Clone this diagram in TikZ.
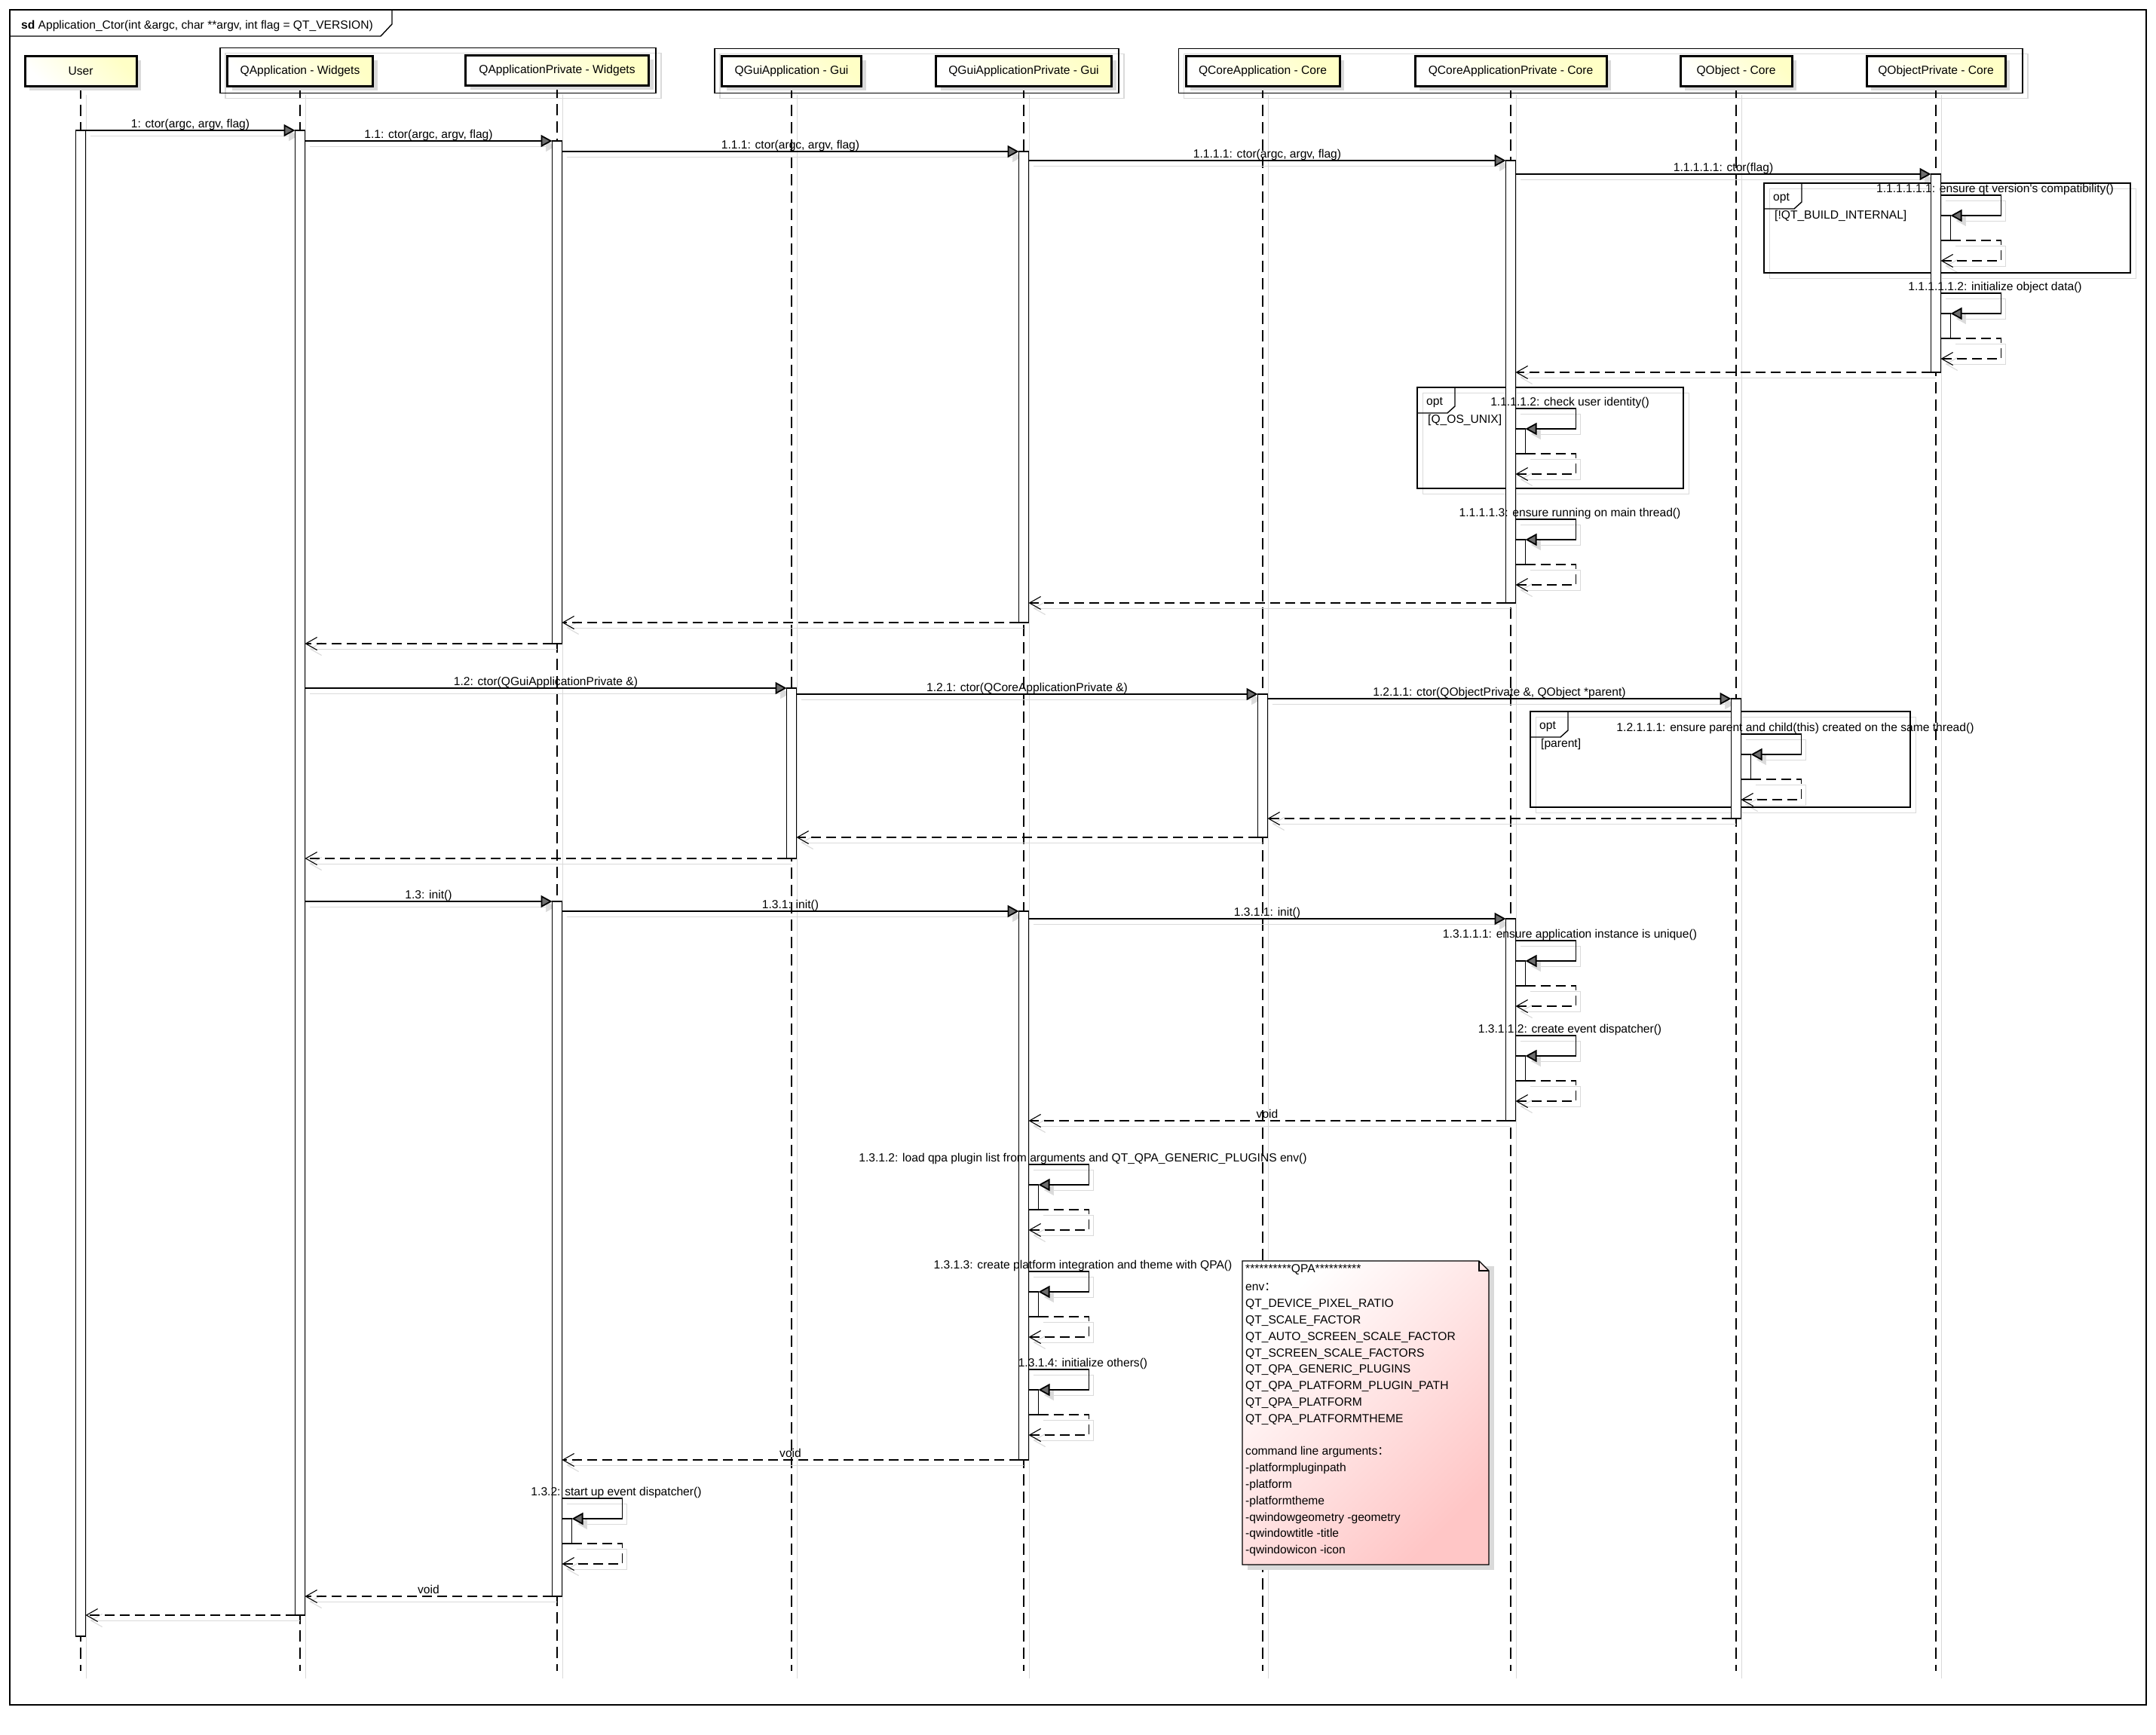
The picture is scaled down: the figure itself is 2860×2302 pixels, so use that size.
\documentclass[tikz,border=0pt]{standalone}
\usepackage{fontspec}
\setmainfont{Liberation Sans}
\newfontfamily\cjk{Noto Sans CJK SC}
\usetikzlibrary{arrows.meta,backgrounds,calc,fit,positioning,shadows}
\definecolor{Ink}{HTML}{000000}
\definecolor{Shade}{HTML}{DADADA}
\definecolor{HeadCream}{HTML}{FFFFC6}
\definecolor{NotePink}{HTML}{FFC6C6}
\definecolor{TipGray}{HTML}{6E6E6E}
\newcommand{\msgfont}{\fontsize{15.6}{18}\selectfont}
\tikzset{
  headbox/.style={
    draw=Ink, line width=3pt, top color=HeadCream, bottom color=white, shading angle=-45,
    minimum height=40pt, inner sep=0pt, font=\msgfont,
    drop shadow={shadow xshift=6pt, shadow yshift=-6pt, fill=Shade, opacity=1}
  },
  groupbox/.style={
    draw=Ink, line width=1.4pt, inner xsep=8pt, inner ysep=8pt,
    preaction={draw=Shade, transform canvas={shift={(7pt,-7pt)}}}
  },
  lifeline/.style={
    draw=Ink, line width=1.5pt, dash pattern=on 15pt off 8pt,
    preaction={draw=Shade, solid, transform canvas={shift={(7pt,-10pt)}}}
  },
  actbox/.style={draw=Ink, line width=1.3pt, fill=white, minimum width=13pt, inner sep=0pt, outer sep=0pt},
  call/.style={
    draw=Ink, line width=1.8pt, -{Triangle[length=15pt,width=16pt,fill=TipGray]},
    preaction={draw=Shade, -{Triangle[length=15pt,width=16pt,fill=Shade]}, transform canvas={shift={(6pt,-7pt)}}}
  },
  reply/.style={
    draw=Ink, line width=1.5pt, dash pattern=on 13pt off 7pt,
    -{Straight Barb[length=15pt,width=17pt,line width=1.1pt]},
    preaction={draw=Shade, solid, transform canvas={shift={(6pt,-7pt)}}}
  },
  msglabel/.style={font=\msgfont, inner sep=0pt, anchor=base, yshift=4pt},
  fragbox/.style={draw=Ink, line width=1.4pt, preaction={draw=Shade, transform canvas={shift={(7pt,-7pt)}}}},
  fragtext/.style={font=\msgfont, inner sep=0pt, anchor=base west},
  notetext/.style={font=\fontsize{15.6}{21.8}\selectfont, align=left, inner sep=0pt, anchor=north west}
}
% activation bar: name, lifeline head, top y, bottom y
\newcommand{\actbar}[4]{\node[actbox, anchor=north, minimum height={#4-#3}] (#1) at (#2 |- 0,#3) {};}
% call: from bar, to bar, label
\newcommand{\callmsg}[3]{%
  \begin{pgfonlayer}{background}
    \draw[call] (#1.east |- #2.north) -- (#2.north west);
  \end{pgfonlayer}
  \node[msglabel] (#2-lbl) at ($(#1.east |- #2.north)!0.5!(#2.north west)$) {#3};
}
% reply: from bar, to bar, label
\newcommand{\replymsg}[3]{%
  \begin{pgfonlayer}{background}
    \draw[reply] (#1.south west) -- (#2.east |- #1.south);
  \end{pgfonlayer}
  \node[msglabel] (#1-ret) at ($(#1.south west)!0.5!(#2.east |- #1.south)$) {#3};
}
% self call: bar, nested bar, top y, label
\newcommand{\selfmsg}[4]{%
  \node[actbox, anchor=north west, minimum height=33pt] (#2) at (#1.east |- 0,#3+27) {};
  \begin{pgfonlayer}{background}
    \draw[call] (#1.east |- 0,#3) -- ++(80,0) |- (#2.north east);
    \draw[reply] (#2.south east) -- ++(67,0) |- (#1.east |- 0,#3+87);
  \end{pgfonlayer}
  \node[msglabel] (#2-lbl) at ($(#1.east |- 0,#3)+(72,0)$) {#4};
}
% opt fragment: name, x1, y1, x2, y2, guard
\newcommand{\optfrag}[6]{%
  \draw[fragbox] (#2,#3) coordinate (#1) rectangle (#4,#5);
  \draw[Ink, line width=1.4pt] (#1) -- ++(50,0) -- ++(0,25) -- ++(-10,9) -- ++(-40,0);
  \node[fragtext] (#1-opt) at ($(#1)+(12,23)$) {opt};
  \node[fragtext] (#1-guard) at ($(#1)+(14,47)$) {#6};
}

\begin{document}
\begin{tikzpicture}[x=1pt, y=-1pt]
  \useasboundingbox (0,0) rectangle (2860,2302);
  % frame
  \node[draw=Ink, line width=1.6pt, minimum width=2834pt, minimum height=2249pt,
    anchor=north west, inner sep=0pt, outer sep=0pt] (frame) at (13,13) {};
  \draw[Ink, line width=1.4pt] (frame.north west) ++(0,35) -- ++(492,0) -- ++(15,-16) -- ++(0,-19);
  \node[anchor=base west, font=\msgfont, inner sep=0pt] (title) at (28,38)
    {\textbf{sd} Application\_Ctor(int \&argc, char **argv, int flag = QT\_VERSION)};

  % lifeline heads
  \node[headbox, minimum width=148pt] (user) at (107,94) {User};
  \node[headbox, minimum width=193pt] (qapp) at (398,94) {QApplication - Widgets};
  \node[headbox, minimum width=243pt] (qappp) at (739,93) {QApplicationPrivate - Widgets};
  \node[headbox, minimum width=185pt] (qgui) at (1050,94) {QGuiApplication - Gui};
  \node[headbox, minimum width=233pt] (qguip) at (1358,94) {QGuiApplicationPrivate - Gui};
  \node[headbox, minimum width=204pt] (qcore) at (1675,94) {QCoreApplication - Core};
  \node[headbox, minimum width=254pt] (qcorep) at (2004,94) {QCoreApplicationPrivate - Core};
  \node[headbox, minimum width=148pt] (qobj) at (2303,94) {QObject - Core};
  \node[headbox, minimum width=184pt] (qobjp) at (2568,94) {QObjectPrivate - Core};
  \coordinate (coreEdge) at (2675,94);
  \node[groupbox, fit=(qapp)(qappp)] (widgets) {};
  \node[groupbox, fit=(qgui)(qguip)] (gui) {};
  \node[groupbox, fit=(qcore)(qobjp)(coreEdge)] (core) {};

  % lifelines
  \coordinate (bottom) at (0,2217);
  \begin{pgfonlayer}{background}
    \foreach \h in {user,qapp,qappp,qgui,qguip,qcore,qcorep,qobj,qobjp}
      \draw[lifeline] (\h.south) -- (\h |- bottom);
  \end{pgfonlayer}

  % fragments
  \optfrag{fragA}{2340}{243}{2826}{362}{[!QT\_BUILD\_INTERNAL]}
  \optfrag{fragB}{1880}{514}{2233}{648}{[Q\_OS\_UNIX]}
  \optfrag{fragC}{2030}{944}{2534}{1071}{[parent]}

  % activation bars
  \actbar{uB}{user}{173}{2171}
  \actbar{aB}{qapp}{173}{2143}
  \actbar{apA}{qappp}{187}{854}
  \actbar{gpA}{qguip}{201}{826}
  \actbar{cpA}{qcorep}{213}{800}
  \actbar{opA}{qobjp}{231}{494}
  \actbar{gA}{qgui}{913}{1139}
  \actbar{cA}{qcore}{921}{1111}
  \actbar{oA}{qobj}{927}{1086}
  \actbar{apB}{qappp}{1196}{2118}
  \actbar{gpB}{qguip}{1209}{1937}
  \actbar{cpB}{qcorep}{1219}{1487}

  % construction
  \callmsg{uB}{aB}{1: ctor(argc, argv, flag)}
  \callmsg{aB}{apA}{1.1: ctor(argc, argv, flag)}
  \callmsg{apA}{gpA}{1.1.1: ctor(argc, argv, flag)}
  \callmsg{gpA}{cpA}{1.1.1.1: ctor(argc, argv, flag)}
  \callmsg{cpA}{opA}{1.1.1.1.1: ctor(flag)}
  \selfmsg{opA}{opS1}{259}{1.1.1.1.1.1: ensure qt version\textquotesingle s compatibility()}
  \selfmsg{opA}{opS2}{389}{1.1.1.1.1.2: initialize object data()}
  \replymsg{opA}{cpA}{}
  \selfmsg{cpA}{cpS1}{542}{1.1.1.1.2: check user identity()}
  \selfmsg{cpA}{cpS2}{689}{1.1.1.1.3: ensure running on main thread()}
  \replymsg{cpA}{gpA}{}
  \replymsg{gpA}{apA}{}
  \replymsg{apA}{aB}{}

  \callmsg{aB}{gA}{1.2: ctor(QGuiApplicationPrivate \&)}
  \callmsg{gA}{cA}{1.2.1: ctor(QCoreApplicationPrivate \&)}
  \callmsg{cA}{oA}{1.2.1.1: ctor(QObjectPrivate \&, QObject *parent)}
  \selfmsg{oA}{oS1}{974}{1.2.1.1.1: ensure parent and child(this) created on the same thread()}
  \replymsg{oA}{cA}{}
  \replymsg{cA}{gA}{}
  \replymsg{gA}{aB}{}

  % init
  \callmsg{aB}{apB}{1.3: init()}
  \callmsg{apB}{gpB}{1.3.1: init()}
  \callmsg{gpB}{cpB}{1.3.1.1: init()}
  \selfmsg{cpB}{cpS3}{1248}{1.3.1.1.1: ensure application instance is unique()}
  \selfmsg{cpB}{cpS4}{1374}{1.3.1.1.2: create event dispatcher()}
  \replymsg{cpB}{gpB}{void}
  \selfmsg{gpB}{gpS1}{1545}{1.3.1.2: load qpa plugin list from arguments and QT\_QPA\_GENERIC\_PLUGINS env()}
  \selfmsg{gpB}{gpS2}{1687}{1.3.1.3: create platform integration and theme with QPA()}
  \selfmsg{gpB}{gpS3}{1817}{1.3.1.4: initialize others()}
  \replymsg{gpB}{apB}{void}
  \selfmsg{apB}{apS1}{1988}{1.3.2: start up event dispatcher()}
  \replymsg{apB}{aB}{void}
  \replymsg{aB}{uB}{}

  % QPA note
  \coordinate (qpaNW) at (1648,1673);
  \coordinate (qpaSE) at (1975,2076);
  \fill[Shade] ($(qpaNW)+(7,7)$) rectangle ($(qpaSE)+(7,7)$);
  \shadedraw[draw=Ink, line width=1.3pt, top color=white, bottom color=NotePink, shading angle=45]
    (qpaNW) -- ($(qpaNW -| qpaSE)+(-13,0)$) -- ($(qpaNW -| qpaSE)+(0,13)$) -- (qpaSE) -- (qpaNW |- qpaSE) -- cycle;
  \draw[Ink, line width=1.3pt] ($(qpaNW -| qpaSE)+(-13,0)$) |- ($(qpaNW -| qpaSE)+(0,13)$);
  \node[notetext] (qpa) at (1652,1677) {**********QPA**********\\[3pt]
    env{\cjk ：}\\
    QT\_DEVICE\_PIXEL\_RATIO\\
    QT\_SCALE\_FACTOR\\
    QT\_AUTO\_SCREEN\_SCALE\_FACTOR\\
    QT\_SCREEN\_SCALE\_FACTORS\\
    QT\_QPA\_GENERIC\_PLUGINS\\
    QT\_QPA\_PLATFORM\_PLUGIN\_PATH\\
    QT\_QPA\_PLATFORM\\
    QT\_QPA\_PLATFORMTHEME\\[21.8pt]
    command line arguments{\cjk ：}\\
    -platformpluginpath\\
    -platform\\
    -platformtheme\\
    -qwindowgeometry -geometry\\
    -qwindowtitle -title\\
    -qwindowicon -icon};
\end{tikzpicture}
\end{document}
